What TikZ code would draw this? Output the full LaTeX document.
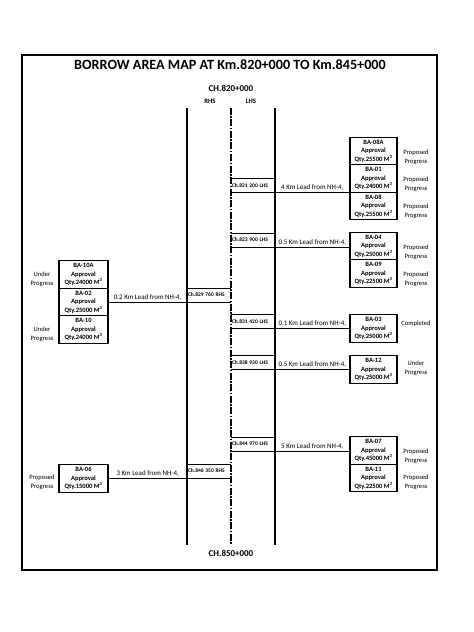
\documentclass[tikz,border=0pt]{standalone}
\usepackage{fontspec}
\setmainfont{Carlito}
\begin{document}
\begin{tikzpicture}[x=1bp,y=-1bp,
  frame/.style={line width=1.6bp},
  road/.style={line width=2.2bp},
  axis/.style={line width=1.1bp, dash pattern=on 7bp off 1.5bp on 1.5bp off 1.5bp},
  babox/.style={draw, line width=1.1bp, minimum width=47bp, minimum height=27.5bp, inner sep=0pt, align=center, font=\fontsize{6.6}{8.5}\selectfont\bfseries},
  chbox/.style={minimum width=44bp, minimum height=13.5bp, inner sep=0pt, text width=42bp, align=left, font=\fontsize{5.5}{6}\selectfont\bfseries},
  chline/.style={line width=0.8bp},
  lead/.style={line width=0.6bp},
  leadtext/.style={font=\fontsize{7}{8}\selectfont, above, inner sep=1.5bp},
  status/.style={font=\fontsize{6.6}{9}\selectfont, align=center, inner sep=0pt},
  head/.style={font=\bfseries, inner sep=0pt},
]
\fill[white] (0,0) rectangle (474,632);
\useasboundingbox (0,0) rectangle (474,632);
% frame
\draw[frame] (22,55) rectangle (437,570);
% headings
\node[head, font=\fontsize{14.2}{16}\selectfont\bfseries] (title) at (230,65) {BORROW AREA MAP AT Km.820+000 TO Km.845+000};
\node[head, font=\fontsize{9}{10}\selectfont\bfseries] (chstart) at (231,88) {CH.820+000};
\node[head, font=\fontsize{6.8}{7}\selectfont\bfseries] (rhs) at (210,101) {RHS};
\node[head, font=\fontsize{6.8}{7}\selectfont\bfseries] (lhs) at (251,101) {LHS};
\node[head, font=\fontsize{9}{10}\selectfont\bfseries] (chend) at (231,553) {CH.850+000};
% road
\coordinate (rt) at (187,108); \coordinate (rb) at (187,545);
\coordinate (ct) at (231,108); \coordinate (cb) at (231,545);
\coordinate (lt) at (275,108); \coordinate (lb) at (275,545);
\draw[road] (rt) -- (rb);
\draw[road] (lt) -- (lb);
\draw[axis] (ct) -- (cb);
% chainage boxes
\node[chbox] (c1) at (253,185.5) {Ch.821 200 LHS};
\node[chbox] (c2) at (253,240) {Ch.823 900 LHS};
\node[chbox] (c3) at (209,295) {Ch.829 760 RHS};
\node[chbox] (c4) at (253,321.5) {Ch.831 420 LHS};
\node[chbox] (c5) at (253,362.5) {Ch.838 930 LHS};
\node[chbox] (c6) at (253,444) {Ch.844 970 LHS};
\node[chbox] (c7) at (209,471) {Ch.846 350 RHS};
\foreach \c in {c1,c2,c3,c4,c5,c6,c7}{
  \draw[chline] (\c.north west) -- (\c.north east);
  \draw[chline] (\c.south west) -- (\c.south east);
}
% borrow area boxes, right side
\node[babox] (ba08a) at (373.5,151) {BA-08A\\Approval\\Qty.25500 M\textsuperscript{3}};
\node[babox] (ba01) at (373.5,178.5) {BA-01\\Approval\\Qty.24000 M\textsuperscript{3}};
\node[babox] (ba08) at (373.5,206) {BA-08\\Approval\\Qty.25500 M\textsuperscript{3}};
\node[babox] (ba04) at (373.5,246) {BA-04\\Approval\\Qty.25000 M\textsuperscript{3}};
\node[babox] (ba09) at (373.5,273.5) {BA-09\\Approval\\Qty.22500 M\textsuperscript{3}};
\node[babox] (ba03) at (373.5,328.5) {BA-03\\Approval\\Qty.25000 M\textsuperscript{3}};
\node[babox] (ba12) at (373.5,369.5) {BA-12\\Approval\\Qty.25000 M\textsuperscript{3}};
\node[babox] (ba07) at (373.5,450.5) {BA-07\\Approval\\Qty.45000 M\textsuperscript{3}};
\node[babox] (ba11) at (373.5,478) {BA-11\\Approval\\Qty.22500 M\textsuperscript{3}};
% left side
\node[babox, minimum width=49bp] (ba10a) at (83.5,274.5) {BA-10A\\Approval\\Qty.24000 M\textsuperscript{3}};
\node[babox, minimum width=49bp] (ba02) at (83.5,302) {BA-02\\Approval\\Qty.25000 M\textsuperscript{3}};
\node[babox, minimum width=49bp] (ba10) at (83.5,329.5) {BA-10\\Approval\\Qty.24000 M\textsuperscript{3}};
\node[babox, minimum width=49bp] (ba06) at (83.5,478.5) {BA-06\\Approval\\Qty.15000 M\textsuperscript{3}};
% status labels
\node[status] (s08a) at (416,157.5) {Proposed\\Progress};
\node[status] (s01) at (416,184.5) {Proposed\\Progress};
\node[status] (s08) at (416,211.5) {Proposed\\Progress};
\node[status] (s04) at (416,252) {Proposed\\Progress};
\node[status] (s09) at (416,279) {Proposed\\Progress};
\node[status] (s03) at (416,324) {Completed};
\node[status] (s12) at (416,368.5) {Under\\Progress};
\node[status] (s07) at (416,456.5) {Proposed\\Progress};
\node[status] (s11) at (416,482.5) {Proposed\\Progress};
\node[status] (s10a) at (42,279) {Under\\Progress};
\node[status] (s10) at (42,334) {Under\\Progress};
\node[status] (s06) at (42,482.5) {Proposed\\Progress};
% lead lines
\draw[lead] (c1.south east) -- (c1.south east -| ba01.west) node[leadtext, midway] {4 Km Lead from NH-4,};
\draw[lead] (c2.south east) -- (c2.south east -| ba04.west) node[leadtext, midway] {0.5 Km Lead from NH-4,};
\draw[lead] (c3.south west) -- (c3.south west -| ba02.east) node[leadtext, midway] {0.2 Km Lead from NH-4,};
\draw[lead] (c4.south east) -- (c4.south east -| ba03.west) node[leadtext, midway] {0.1 Km Lead from NH-4,};
\draw[lead] (c5.south east) -- (c5.south east -| ba12.west) node[leadtext, midway] {0.5 Km Lead from NH-4,};
\draw[lead] (c6.south east) -- (c6.south east -| ba07.west) node[leadtext, midway] {5 Km Lead from NH-4,};
\draw[lead] (c7.south west) -- (c7.south west -| ba06.east) node[leadtext, midway] {3 Km Lead from NH-4,};
\end{tikzpicture}
\end{document}
